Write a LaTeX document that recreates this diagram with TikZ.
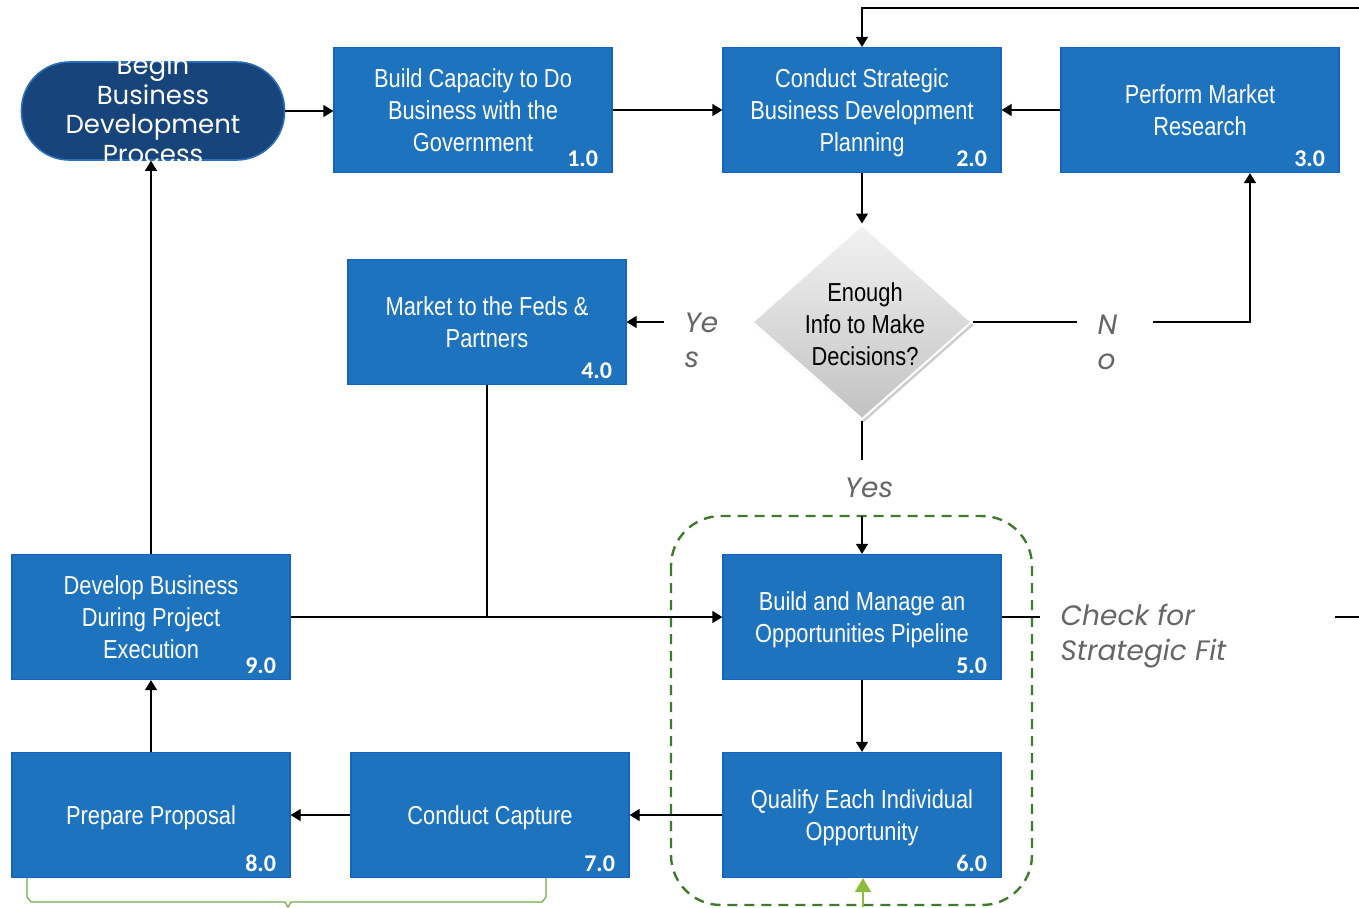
\documentclass[tikz,border=0pt]{standalone}
\usepackage{fontspec}
\setmainfont{Liberation Sans}
\newfontfamily\narrowfont[FakeStretch=0.84]{Liberation Sans}
\newfontfamily\geofont{Poppins}
\newfontfamily\numfont{Carlito}
\usetikzlibrary{arrows.meta, shapes.geometric, shadows, calc}
\definecolor{boxblue}{HTML}{1E73BE}
\definecolor{boxedge}{HTML}{1565C0}
\definecolor{startblue}{HTML}{17447A}
\definecolor{startedge}{HTML}{2A6DB8}
\definecolor{fitgreen}{HTML}{3F7B2C}
\definecolor{bracegreen}{HTML}{70AD47}
\definecolor{upgreen}{HTML}{8DBB3A}
\definecolor{notegray}{HTML}{666666}
\begin{document}
\begin{tikzpicture}[x=0.5pt, y=-0.5pt, line width=0.6pt,
    task/.style={draw=boxedge, fill=boxblue, text=white, minimum width=139pt, minimum height=62.5pt,
      inner sep=0pt, text depth=0pt, align=center, font=\narrowfont\fontsize{13}{16}\selectfont},
    tasknum/.style={anchor=base east, text=white, inner sep=0pt, font=\numfont\bfseries\fontsize{12}{12}\selectfont},
    startbox/.style={draw=startedge, fill=startblue, line width=0.8pt, minimum width=131.5pt, minimum height=49pt,
      rounded corners=24pt, inner sep=0pt},
    starttext/.style={text=white, align=center, inner sep=0pt, font=\geofont\fontsize{13}{14.75}\selectfont},
    decision/.style={diamond, minimum width=110pt, minimum height=97.5pt, inner sep=0pt, draw=white, line width=1pt,
      top color=gray!10, bottom color=gray!48, drop shadow={opacity=0.4, shadow xshift=1pt, shadow yshift=-1.5pt}},
    decisiontext/.style={align=center, inner sep=0pt, font=\narrowfont\fontsize{13}{16}\selectfont},
    note/.style={text=notegray, align=left, inner sep=0pt, font=\geofont\itshape\fontsize{14}{17.5}\selectfont},
    arr/.style={-{Triangle[length=5pt, width=6pt]}},
    greenarr/.style={draw=upgreen, line width=1pt, -{Triangle[length=7pt, width=8pt]}},
    fitline/.style={draw=fitgreen, line width=1.2pt, dash pattern=on 5pt off 3.5pt, rounded corners=25pt},
    brace/.style={draw=bracegreen, line width=0.6pt}]
  \useasboundingbox (0,0) rectangle (1359,907);
  \fill [white] (0,0) rectangle (1359,907);

  \node [startbox] (start) at (153,111) {};
  \node [starttext] (starttxt) at (153,109) {Begin\\Business\\Development\\Process};

  \node [task] (b1) at (473,110) {Build Capacity to Do\\Business with the\\Government};
  \node [task] (b2) at (862,110) {Conduct Strategic\\Business Development\\Planning};
  \node [task] (b3) at (1200,110) {Perform Market\\Research};
  \node [task] (b4) at (487,322) {Market to the Feds \&\\Partners};
  \node [task] (b5) at (862,617) {Build and Manage an\\Opportunities Pipeline};
  \node [task] (b6) at (862,815) {Qualify Each Individual\\Opportunity};
  \node [task] (b7) at (490,815) {Conduct Capture};
  \node [task] (b8) at (151,815) {Prepare Proposal};
  \node [task] (b9) at (151,617) {Develop Business\\During Project\\Execution};

  \node [tasknum] (n1) at ([shift={(-14,-7)}]b1.south east) {1.0};
  \node [tasknum] (n2) at ([shift={(-14,-7)}]b2.south east) {2.0};
  \node [tasknum] (n3) at ([shift={(-14,-7)}]b3.south east) {3.0};
  \node [tasknum] (n4) at ([shift={(-14,-7)}]b4.south east) {4.0};
  \node [tasknum] (n5) at ([shift={(-14,-7)}]b5.south east) {5.0};
  \node [tasknum] (n6) at ([shift={(-14,-7)}]b6.south east) {6.0};
  \node [tasknum] (n7) at ([shift={(-14,-7)}]b7.south east) {7.0};
  \node [tasknum] (n8) at ([shift={(-14,-7)}]b8.south east) {8.0};
  \node [tasknum] (n9) at ([shift={(-14,-7)}]b9.south east) {9.0};

  \node [decision] (dec) at (862,322) {};
  \node [decisiontext] (dectxt) at (865,324) {Enough\\Info to Make\\Decisions?};

  \node [note, anchor=west] (yesleft) at (684,340) {Ye\\s};
  \node [note, anchor=west] (noright) at (1097,342) {N\\o};
  \node [note] (yesdown) at (869,488) {Yes};
  \node [note, anchor=west] (fitnote) at (1060,636) {Check for\\Strategic Fit};

  \coordinate (loop) at (1359,8);
  \coordinate (noA) at (1077,322);
  \coordinate (noB) at (1153,322);
  \coordinate (yesL) at (664,322);
  \coordinate (yesA) at (862,460);
  \coordinate (yesB) at (862,516);
  \coordinate (fitA) at (1040,617);
  \coordinate (fitB) at (1335,617);
  \coordinate (fitC) at (1359,617);
  \coordinate (greenfoot) at (863,907);

  \draw [fitline] (671,516) rectangle (1032,905);

  \draw [arr] (start.east) -- (start.east -| b1.west);
  \draw [arr] (b1) -- (b2);
  \draw [arr] (b3) -- (b2);
  \draw [arr] (loop) -| (b2.north);
  \draw [arr] (b2) -- (dec);
  \draw (dec.east) -- (noA);
  \draw [arr] (noB) -| ($(b3.south)+(50,0)$);
  \draw [arr] (yesL) -- (b4.east);
  \draw (dec.south) -- (yesA);
  \draw [arr] (yesB) -- (b5.north);
  \draw (b4.south) -- (b4.south |- b9.east);
  \draw [arr] (b9.east) -- (b9.east -| b5.west);
  \draw [arr] (b5) -- (b6);
  \draw (b5.east) -- (fitA);
  \draw (fitB) -- (fitC);
  \draw [arr] (b6) -- (b7);
  \draw [arr] (b7) -- (b8);
  \draw [arr] (b8) -- (b9);
  \draw [arr] (b9.north) -- (b9.north |- start.south);
  \draw [greenarr] (greenfoot) -- (greenfoot |- b6.south);
  \draw [brace] (27,878) -- (27,897) -- (31,902) -- (285,902) -- (288,907) -- (291,902) -- (542,902) -- (546,897) -- (546,878);
\end{tikzpicture}
\end{document}
